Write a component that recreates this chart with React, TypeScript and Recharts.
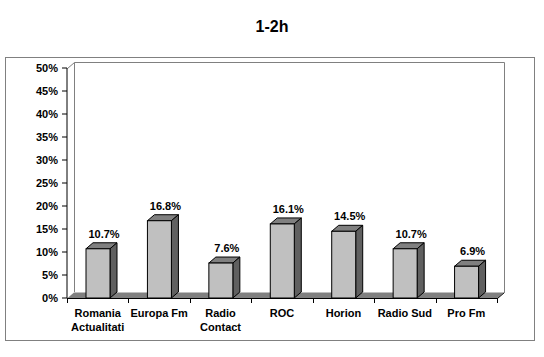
import { Bar, BarChart, LabelList, XAxis, YAxis } from 'recharts'

const stations = [
  'Romania Actualitati',
  'Europa Fm',
  'Radio Contact',
  'ROC',
  'Horion',
  'Radio Sud',
  'Pro Fm',
]
const shares = [10.7, 16.8, 7.6, 16.1, 14.5, 10.7, 6.9]
const yTicks = [0, 5, 10, 15, 20, 25, 30, 35, 40, 45, 50]

const data = stations.map((name, i) => ({ name, value: shares[i] }))

const W = 544
const H = 357
const margin = { top: 68, right: 47, bottom: 29, left: 7 }
const Y_AXIS_W = 60
const X_AXIS_H = 30
const plotLeft = margin.left + Y_AXIS_W
const plotRight = W - margin.right
const plotTop = margin.top
const plotBottom = H - margin.bottom - X_AXIS_H
const DX = 7
const DY = 6
const FONT = 'Arial, "Liberation Sans", sans-serif'

// wrap long names onto two lines like Excel does
function wrap(label: string) {
  const words = label.split(' ')
  const lines: string[] = []
  let cur = ''
  for (const w of words) {
    const next = cur ? cur + ' ' + w : w
    if (next.length > 10 && cur) {
      lines.push(cur)
      cur = w
    } else cur = next
  }
  lines.push(cur)
  return lines
}

function Bar3D(props: any) {
  const { x, y, width, height } = props
  return (
    <g stroke="#000" strokeWidth={1}>
      <polygon
        points={`${x},${y} ${x + DX},${y - DY} ${x + width + DX},${y - DY} ${x + width},${y}`}
        fill="#808080"
      />
      <polygon
        points={`${x + width},${y} ${x + width + DX},${y - DY} ${x + width + DX},${y + height - DY} ${x + width},${y + height}`}
        fill="#606060"
      />
      <rect x={x} y={y} width={width} height={height} fill="#C0C0C0" />
    </g>
  )
}

function ValueLabel(props: any) {
  const { x, y, width, value } = props
  return (
    <text
      x={x + width / 2 + 6}
      y={y - 11}
      textAnchor="middle"
      fontFamily={FONT}
      fontWeight="bold"
      fontSize={11}
      fill="#000"
    >
      {Number(value).toFixed(1)}%
    </text>
  )
}

function StationTick(props: any) {
  const { x, y, payload } = props
  const lines = wrap(payload.value)
  return (
    <text
      x={x}
      y={y}
      textAnchor="middle"
      fontFamily={FONT}
      fontWeight="bold"
      fontSize={11}
      fill="#000"
    >
      {lines.map((l, i) => (
        <tspan key={i} x={x} dy={i === 0 ? 11 : 14}>
          {l}
        </tspan>
      ))}
    </text>
  )
}

// title, frame, back wall and floor drawn behind the chart
function Backdrop() {
  const band = (plotRight - plotLeft) / stations.length
  return (
    <svg width={W} height={H} style={{ position: 'absolute', left: 0, top: 0 }}>
      <text
        x={272}
        y={32}
        textAnchor="middle"
        fontFamily={FONT}
        fontWeight="bold"
        fontSize={16}
      >
        1-2h
      </text>
      <rect x={5.5} y={57.5} width={529} height={283} fill="#fff" stroke="#808080" />
      <polyline
        points={`${plotLeft + DX + 0.5},${plotBottom - DY} ${plotLeft + DX + 0.5},${plotTop - DY + 0.5} ${plotRight + DX + 0.5},${plotTop - DY + 0.5} ${plotRight + DX + 0.5},${plotBottom - DY}`}
        fill="none"
        stroke="#808080"
      />
      <line
        x1={plotLeft + 0.5}
        y1={plotTop + 0.5}
        x2={plotLeft + DX + 0.5}
        y2={plotTop - DY + 0.5}
        stroke="#808080"
      />
      <polygon
        points={`${plotLeft},${plotBottom + 0.5} ${plotRight},${plotBottom + 0.5} ${plotRight + DX},${plotBottom - DY + 0.5} ${plotLeft + DX},${plotBottom - DY + 0.5}`}
        fill="#808080"
      />
      <line
        x1={plotRight + 0.5}
        y1={plotBottom + 0.5}
        x2={plotRight + DX + 0.5}
        y2={plotBottom - DY + 0.5}
        stroke="#000"
      />
      <line
        x1={plotLeft}
        y1={plotBottom + 0.5}
        x2={plotRight + 1}
        y2={plotBottom + 0.5}
        stroke="#000"
      />
      {Array.from({ length: stations.length + 1 }, (_, i) => {
        const tx = Math.round(plotLeft + i * band) + 0.5
        return (
          <line key={i} x1={tx} y1={plotBottom} x2={tx} y2={plotBottom + 5} stroke="#000" />
        )
      })}
    </svg>
  )
}

export default function App() {
  return (
    <div style={{ position: 'absolute', left: 0, top: 0, width: W, height: H }}>
      <Backdrop />
      <BarChart width={W} height={H} data={data} margin={margin}>
        <XAxis
          dataKey="name"
          height={X_AXIS_H}
          axisLine={false}
          tickLine={false}
          interval={0}
          tick={<StationTick />}
        />
        <YAxis
          width={Y_AXIS_W}
          domain={[0, 50]}
          ticks={yTicks}
          interval={0}
          tickFormatter={(v) => `${v}%`}
          axisLine={{ stroke: '#000' }}
          tickLine={{ stroke: '#000' }}
          tickSize={5}
          tickMargin={4}
          tick={{ fill: '#000', fontFamily: FONT, fontWeight: 'bold', fontSize: 11 }}
        />
        <Bar dataKey="value" barSize={24} shape={<Bar3D />} isAnimationActive={false}>
          <LabelList dataKey="value" content={<ValueLabel />} />
        </Bar>
      </BarChart>
    </div>
  )
}
